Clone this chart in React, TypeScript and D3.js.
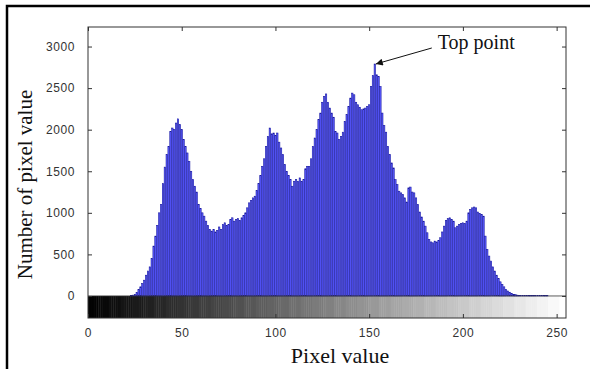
import * as d3 from "d3";
import { useEffect, useRef } from "react";

const WIDTH = 590;
const HEIGHT = 369;

// histogram bins 0..255 and the pixel counts
const pixelValues = d3.range(0, 256);
const pixelCounts = [
  0, 0, 0, 0, 0, 0, 0, 0, 0, 0, 0, 0, 0, 0, 0, 0,
  0, 0, 0, 0, 0, 0, 0, 5, 10, 20, 40, 80, 110, 150, 190, 250,
  300, 350, 450, 600, 720, 850, 1000, 1100, 1350, 1550, 1700, 1800, 1980, 2020, 2000, 2080,
  2130, 2060, 2000, 1880, 1800, 1720, 1620, 1500, 1400, 1320, 1250, 1100, 1050, 1000, 960, 900,
  850, 800, 780, 800, 770, 790, 830, 800, 860, 880, 850, 860, 920, 940, 900, 920,
  930, 910, 940, 970, 1000, 1060, 1120, 1150, 1180, 1200, 1270, 1350, 1450, 1560, 1650, 1800,
  1920, 2020, 1950, 1960, 1930, 1960, 1850, 1780, 1700, 1580, 1500, 1450, 1400, 1320, 1380, 1400,
  1380, 1420, 1380, 1400, 1530, 1560, 1560, 1650, 1800, 1900, 2000, 2120, 2200, 2330, 2400, 2430,
  2330, 2260, 2200, 2150, 1980, 1960, 1880, 1920, 1970, 2100, 2180, 2280, 2380, 2440, 2420, 2330,
  2300, 2270, 2240, 2250, 2260, 2280, 2300, 2520, 2650, 2790, 2660, 2640, 2520, 2200, 2050, 1970,
  1800, 1700, 1600, 1540, 1400, 1340, 1260, 1240, 1220, 1180, 1130, 1300, 1310, 1250, 1240, 1180,
  1100, 1010, 950, 900, 840, 760, 680, 650, 640, 660, 650, 670, 700, 770, 840, 910,
  930, 940, 920, 900, 820, 840, 860, 870, 880, 870, 900, 1000, 1040, 1060, 1070, 1060,
  1010, 990, 980, 960, 720, 560, 480, 420, 350, 300, 250, 210, 170, 140, 110, 80,
  60, 45, 30, 20, 15, 10, 8, 6, 5, 5, 4, 4, 3, 3, 3, 3,
  3, 3, 3, 3, 3, 3, 0, 0, 0, 0, 0, 0, 0, 0, 0, 0,
];
const yTicks = [0, 500, 1000, 1500, 2000, 2500, 3000];
const xTicks = [0, 50, 100, 150, 200, 250];
const xLabel = "Pixel value";
const yLabel = "Number of pixel value";
const peakLabel = "Top point";

const App = () => {
  const ref = useRef<SVGSVGElement>(null);

  useEffect(() => {
    const svg = d3.select(ref.current);
    svg.selectAll("*").remove();

    const left = 88, right = 566, top = 27, bottom = 318;
    const x = d3.scaleLinear().domain([0, 255]).range([left, right]);
    const y = d3.scaleLinear().domain([-265, 3235]).range([bottom, top]);
    const step = x(1) - x(0);
    const barW = step * 0.75;
    const tickFont = "'Liberation Sans', Arial, sans-serif";
    const serif = "'Liberation Serif', 'Times New Roman', serif";

    svg.append("rect").attr("width", WIDTH).attr("height", HEIGHT).attr("fill", "#fff");

    // outer figure frame (only top and left are visible)
    svg.append("path")
      .attr("d", `M7,${HEIGHT + 5} V6 H${WIDTH + 5}`)
      .attr("fill", "none")
      .attr("stroke", "#000")
      .attr("stroke-width", 2.5);

    const defs = svg.append("defs");
    defs.append("clipPath").attr("id", "plot-clip")
      .append("rect")
      .attr("x", left).attr("y", top)
      .attr("width", right - left).attr("height", bottom - top);
    defs.append("marker")
      .attr("id", "arrow-head")
      .attr("viewBox", "0 0 10 10")
      .attr("refX", 10).attr("refY", 5)
      .attr("markerWidth", 9).attr("markerHeight", 7)
      .attr("markerUnits", "userSpaceOnUse")
      .attr("orient", "auto")
      .append("path")
      .attr("d", "M0,0 L10,5 L0,10 z")
      .attr("fill", "#111");

    const plot = svg.append("g").attr("clip-path", "url(#plot-clip)");

    // grey colour strip below zero
    plot.append("g")
      .selectAll("rect")
      .data(pixelValues)
      .join("rect")
      .attr("x", d => x(d) - step / 2)
      .attr("y", y(0))
      .attr("width", step + 0.4)
      .attr("height", bottom - y(0))
      .attr("fill", d => {
        const g = Math.min(255, Math.floor(d / 6) * 6 + 3);
        return `rgb(${g},${g},${g})`;
      });

    // histogram bars
    plot.append("g")
      .selectAll("rect")
      .data(pixelValues.filter(d => pixelCounts[d] > 0))
      .join("rect")
      .attr("x", d => x(d) - barW / 2)
      .attr("y", d => y(pixelCounts[d]))
      .attr("width", barW)
      .attr("height", d => y(0) - y(pixelCounts[d]))
      .attr("fill", "#5c5cff")
      .attr("stroke", "#12129c")
      .attr("stroke-width", 0.55);

    plot.append("line")
      .attr("x1", left).attr("x2", right)
      .attr("y1", y(0)).attr("y2", y(0))
      .attr("stroke", "#333")
      .attr("stroke-width", 0.8);

    const styleAxis = (g) => {
      g.select(".domain").remove();
      g.selectAll("line").attr("stroke", "#333");
      g.selectAll("text")
        .attr("font-family", tickFont)
        .attr("font-size", 12)
        .attr("letter-spacing", 0.6)
        .attr("fill", "#333");
    };

    svg.append("g")
      .attr("transform", `translate(${left},0)`)
      .call(d3.axisLeft(y).tickValues(yTicks).tickSize(-4).tickPadding(13).tickFormat(d3.format("d")))
      .call(styleAxis);
    svg.append("g")
      .attr("transform", `translate(${right},0)`)
      .call(d3.axisRight(y).tickValues(yTicks).tickSize(-4).tickFormat(() => ""))
      .call(styleAxis);
    svg.append("g")
      .attr("transform", `translate(0,${top})`)
      .call(d3.axisTop(x).tickValues(xTicks).tickSize(-4).tickFormat(() => ""))
      .call(styleAxis);
    svg.append("g")
      .attr("transform", `translate(0,${bottom})`)
      .call(d3.axisBottom(x).tickValues(xTicks).tickSize(-4).tickPadding(10).tickFormat(d3.format("d")))
      .call(styleAxis);

    svg.append("rect")
      .attr("x", left).attr("y", top)
      .attr("width", right - left).attr("height", bottom - top)
      .attr("fill", "none")
      .attr("stroke", "#333")
      .attr("stroke-width", 1);

    // axis titles
    svg.append("text")
      .attr("x", (left + right) / 2 + 13)
      .attr("y", 363)
      .attr("text-anchor", "middle")
      .attr("font-family", serif)
      .attr("font-size", 22)
      .attr("fill", "#111")
      .text(xLabel);
    svg.append("text")
      .attr("transform", `translate(32,${(top + bottom) / 2 + 12}) rotate(-90)`)
      .attr("text-anchor", "middle")
      .attr("font-family", serif)
      .attr("font-size", 21)
      .attr("fill", "#111")
      .text(yLabel);

    // peak annotation
    const peak = d3.maxIndex(pixelCounts);
    const px = x(peak) + 1;
    const py = y(pixelCounts[peak]);
    svg.append("line")
      .attr("x1", px + 56).attr("y1", py - 16)
      .attr("x2", px).attr("y2", py)
      .attr("stroke", "#111")
      .attr("stroke-width", 1)
      .attr("marker-end", "url(#arrow-head)");
    svg.append("text")
      .attr("x", px + 62)
      .attr("y", py - 15)
      .attr("font-family", serif)
      .attr("font-size", 20)
      .attr("fill", "#111")
      .text(peakLabel);
  }, []);

  return (
    <svg
      ref={ref}
      width={WIDTH}
      height={HEIGHT}
      style={{ position: "absolute", left: 0, top: 0 }}
    />
  );
};

export default App;
